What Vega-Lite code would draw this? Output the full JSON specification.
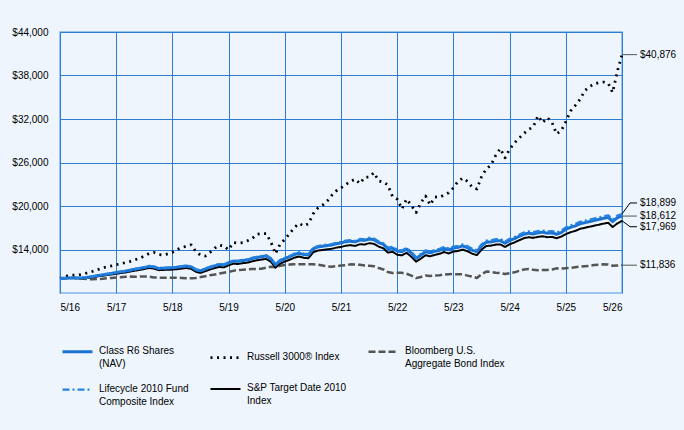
{
  "$schema": "https://vega.github.io/schema/vega-lite/v6.json",
  "width": 562,
  "height": 261,
  "autosize": {"type": "none"},
  "padding": {"left": 60, "top": 32, "right": 62, "bottom": 137},
  "background": "#eef5fd",
  "data": {
    "format": {"parse": {"date": "date:'%Y-%m'"}},
    "values": [
      {"date":"2016-05","series":"Bloomberg","value":10000},{"date":"2016-06","series":"Bloomberg","value":10050},{"date":"2016-07","series":"Bloomberg","value":10080},{"date":"2016-08","series":"Bloomberg","value":10070},{"date":"2016-09","series":"Bloomberg","value":10050},{"date":"2016-10","series":"Bloomberg","value":9980},{"date":"2016-11","series":"Bloomberg","value":9900},{"date":"2016-12","series":"Bloomberg","value":9890},{"date":"2017-01","series":"Bloomberg","value":9920},{"date":"2017-02","series":"Bloomberg","value":9960},
      {"date":"2017-03","series":"Bloomberg","value":10020},{"date":"2017-04","series":"Bloomberg","value":10080},{"date":"2017-05","series":"Bloomberg","value":10150},{"date":"2017-06","series":"Bloomberg","value":10180},{"date":"2017-07","series":"Bloomberg","value":10230},{"date":"2017-08","series":"Bloomberg","value":10260},{"date":"2017-09","series":"Bloomberg","value":10240},{"date":"2017-10","series":"Bloomberg","value":10260},{"date":"2017-11","series":"Bloomberg","value":10270},{"date":"2017-12","series":"Bloomberg","value":10250},
      {"date":"2018-01","series":"Bloomberg","value":10150},{"date":"2018-02","series":"Bloomberg","value":10110},{"date":"2018-03","series":"Bloomberg","value":10100},{"date":"2018-04","series":"Bloomberg","value":10090},{"date":"2018-05","series":"Bloomberg","value":10110},{"date":"2018-06","series":"Bloomberg","value":10100},{"date":"2018-07","series":"Bloomberg","value":10080},{"date":"2018-08","series":"Bloomberg","value":10050},{"date":"2018-09","series":"Bloomberg","value":10030},{"date":"2018-10","series":"Bloomberg","value":10080},
      {"date":"2018-11","series":"Bloomberg","value":10200},{"date":"2018-12","series":"Bloomberg","value":10300},{"date":"2019-01","series":"Bloomberg","value":10450},{"date":"2019-02","series":"Bloomberg","value":10550},{"date":"2019-03","series":"Bloomberg","value":10680},{"date":"2019-04","series":"Bloomberg","value":10800},{"date":"2019-05","series":"Bloomberg","value":10900},{"date":"2019-06","series":"Bloomberg","value":11050},{"date":"2019-07","series":"Bloomberg","value":11180},{"date":"2019-08","series":"Bloomberg","value":11200},
      {"date":"2019-09","series":"Bloomberg","value":11250},{"date":"2019-10","series":"Bloomberg","value":11300},{"date":"2019-11","series":"Bloomberg","value":11320},{"date":"2019-12","series":"Bloomberg","value":11350},{"date":"2020-01","series":"Bloomberg","value":11500},{"date":"2020-02","series":"Bloomberg","value":11630},{"date":"2020-03","series":"Bloomberg","value":11580},{"date":"2020-04","series":"Bloomberg","value":11750},{"date":"2020-05","series":"Bloomberg","value":11850},{"date":"2020-06","series":"Bloomberg","value":11920},
      {"date":"2020-07","series":"Bloomberg","value":11960},{"date":"2020-08","series":"Bloomberg","value":11980},{"date":"2020-09","series":"Bloomberg","value":11960},{"date":"2020-10","series":"Bloomberg","value":11950},{"date":"2020-11","series":"Bloomberg","value":11960},{"date":"2020-12","series":"Bloomberg","value":11900},{"date":"2021-01","series":"Bloomberg","value":11800},{"date":"2021-02","series":"Bloomberg","value":11680},{"date":"2021-03","series":"Bloomberg","value":11620},{"date":"2021-04","series":"Bloomberg","value":11700},
      {"date":"2021-05","series":"Bloomberg","value":11800},{"date":"2021-06","series":"Bloomberg","value":11850},{"date":"2021-07","series":"Bloomberg","value":11950},{"date":"2021-08","series":"Bloomberg","value":11930},{"date":"2021-09","series":"Bloomberg","value":11900},{"date":"2021-10","series":"Bloomberg","value":11800},{"date":"2021-11","series":"Bloomberg","value":11750},{"date":"2021-12","series":"Bloomberg","value":11700},{"date":"2022-01","series":"Bloomberg","value":11450},{"date":"2022-02","series":"Bloomberg","value":11250},
      {"date":"2022-03","series":"Bloomberg","value":10900},{"date":"2022-04","series":"Bloomberg","value":10750},{"date":"2022-05","series":"Bloomberg","value":10800},{"date":"2022-06","series":"Bloomberg","value":10780},{"date":"2022-07","series":"Bloomberg","value":10650},{"date":"2022-08","series":"Bloomberg","value":10400},{"date":"2022-09","series":"Bloomberg","value":10050},{"date":"2022-10","series":"Bloomberg","value":10200},{"date":"2022-11","series":"Bloomberg","value":10400},{"date":"2022-12","series":"Bloomberg","value":10350},
      {"date":"2023-01","series":"Bloomberg","value":10420},{"date":"2023-02","series":"Bloomberg","value":10440},{"date":"2023-03","series":"Bloomberg","value":10550},{"date":"2023-04","series":"Bloomberg","value":10600},{"date":"2023-05","series":"Bloomberg","value":10620},{"date":"2023-06","series":"Bloomberg","value":10570},{"date":"2023-07","series":"Bloomberg","value":10580},{"date":"2023-08","series":"Bloomberg","value":10400},{"date":"2023-09","series":"Bloomberg","value":10250},{"date":"2023-10","series":"Bloomberg","value":10080},
      {"date":"2023-11","series":"Bloomberg","value":10600},{"date":"2023-12","series":"Bloomberg","value":10950},{"date":"2024-01","series":"Bloomberg","value":10900},{"date":"2024-02","series":"Bloomberg","value":10800},{"date":"2024-03","series":"Bloomberg","value":10750},{"date":"2024-04","series":"Bloomberg","value":10620},{"date":"2024-05","series":"Bloomberg","value":10720},{"date":"2024-06","series":"Bloomberg","value":10850},{"date":"2024-07","series":"Bloomberg","value":11050},{"date":"2024-08","series":"Bloomberg","value":11250},
      {"date":"2024-09","series":"Bloomberg","value":11310},{"date":"2024-10","series":"Bloomberg","value":11200},{"date":"2024-11","series":"Bloomberg","value":11150},{"date":"2024-12","series":"Bloomberg","value":11180},{"date":"2025-01","series":"Bloomberg","value":11180},{"date":"2025-02","series":"Bloomberg","value":11250},{"date":"2025-03","series":"Bloomberg","value":11400},{"date":"2025-04","series":"Bloomberg","value":11380},{"date":"2025-05","series":"Bloomberg","value":11410},{"date":"2025-06","series":"Bloomberg","value":11450},
      {"date":"2025-07","series":"Bloomberg","value":11550},{"date":"2025-08","series":"Bloomberg","value":11630},{"date":"2025-09","series":"Bloomberg","value":11700},{"date":"2025-10","series":"Bloomberg","value":11750},{"date":"2025-11","series":"Bloomberg","value":11850},{"date":"2025-12","series":"Bloomberg","value":11900},{"date":"2026-01","series":"Bloomberg","value":11960},{"date":"2026-02","series":"Bloomberg","value":11930},{"date":"2026-03","series":"Bloomberg","value":11770},{"date":"2026-04","series":"Bloomberg","value":11800},
      {"date":"2026-05","series":"Bloomberg","value":11836},

      {"date":"2016-05","series":"Russell","value":10000},{"date":"2016-06","series":"Russell","value":10250},{"date":"2016-07","series":"Russell","value":10450},{"date":"2016-08","series":"Russell","value":10470},{"date":"2016-09","series":"Russell","value":10500},{"date":"2016-10","series":"Russell","value":10620},{"date":"2016-11","series":"Russell","value":10820},{"date":"2016-12","series":"Russell","value":11000},{"date":"2017-01","series":"Russell","value":11230},{"date":"2017-02","series":"Russell","value":11450},
      {"date":"2017-03","series":"Russell","value":11620},{"date":"2017-04","series":"Russell","value":11730},{"date":"2017-05","series":"Russell","value":11900},{"date":"2017-06","series":"Russell","value":12030},{"date":"2017-07","series":"Russell","value":12200},{"date":"2017-08","series":"Russell","value":12360},{"date":"2017-09","series":"Russell","value":12580},{"date":"2017-10","series":"Russell","value":12800},{"date":"2017-11","series":"Russell","value":13100},{"date":"2017-12","series":"Russell","value":13450},
      {"date":"2018-01","series":"Russell","value":13600},{"date":"2018-02","series":"Russell","value":13300},{"date":"2018-03","series":"Russell","value":13250},{"date":"2018-04","series":"Russell","value":13400},{"date":"2018-05","series":"Russell","value":13600},{"date":"2018-06","series":"Russell","value":14000},{"date":"2018-07","series":"Russell","value":14280},{"date":"2018-08","series":"Russell","value":14450},{"date":"2018-09","series":"Russell","value":14650},{"date":"2018-10","series":"Russell","value":13700},
      {"date":"2018-11","series":"Russell","value":13200},{"date":"2018-12","series":"Russell","value":13100},{"date":"2019-01","series":"Russell","value":13600},{"date":"2019-02","series":"Russell","value":14200},{"date":"2019-03","series":"Russell","value":14600},{"date":"2019-04","series":"Russell","value":14500},{"date":"2019-05","series":"Russell","value":13950},{"date":"2019-06","series":"Russell","value":14960},{"date":"2019-07","series":"Russell","value":14900},{"date":"2019-08","series":"Russell","value":14950},
      {"date":"2019-09","series":"Russell","value":15200},{"date":"2019-10","series":"Russell","value":15500},{"date":"2019-11","series":"Russell","value":16100},{"date":"2019-12","series":"Russell","value":16200},{"date":"2020-01","series":"Russell","value":16200},{"date":"2020-02","series":"Russell","value":15000},{"date":"2020-03","series":"Russell","value":13400},{"date":"2020-04","series":"Russell","value":14770},{"date":"2020-05","series":"Russell","value":15400},{"date":"2020-06","series":"Russell","value":16200},
      {"date":"2020-07","series":"Russell","value":17000},{"date":"2020-08","series":"Russell","value":17600},{"date":"2020-09","series":"Russell","value":17250},{"date":"2020-10","series":"Russell","value":17550},{"date":"2020-11","series":"Russell","value":18900},{"date":"2020-12","series":"Russell","value":19700},{"date":"2021-01","series":"Russell","value":20100},{"date":"2021-02","series":"Russell","value":20700},{"date":"2021-03","series":"Russell","value":21450},{"date":"2021-04","series":"Russell","value":22100},
      {"date":"2021-05","series":"Russell","value":22500},{"date":"2021-06","series":"Russell","value":22950},{"date":"2021-07","series":"Russell","value":23400},{"date":"2021-08","series":"Russell","value":23700},{"date":"2021-09","series":"Russell","value":23100},{"date":"2021-10","series":"Russell","value":23950},{"date":"2021-11","series":"Russell","value":24010},{"date":"2021-12","series":"Russell","value":24600},{"date":"2022-01","series":"Russell","value":23460},{"date":"2022-02","series":"Russell","value":23300},
      {"date":"2022-03","series":"Russell","value":22900},{"date":"2022-04","series":"Russell","value":21300},{"date":"2022-05","series":"Russell","value":20950},{"date":"2022-06","series":"Russell","value":19600},{"date":"2022-07","series":"Russell","value":20950},{"date":"2022-08","series":"Russell","value":20100},{"date":"2022-09","series":"Russell","value":19100},{"date":"2022-10","series":"Russell","value":20400},{"date":"2022-11","series":"Russell","value":21390},{"date":"2022-12","series":"Russell","value":20150},
      {"date":"2023-01","series":"Russell","value":21250},{"date":"2023-02","series":"Russell","value":21200},{"date":"2023-03","series":"Russell","value":21500},{"date":"2023-04","series":"Russell","value":21830},{"date":"2023-05","series":"Russell","value":22500},{"date":"2023-06","series":"Russell","value":23400},{"date":"2023-07","series":"Russell","value":23850},{"date":"2023-08","series":"Russell","value":23400},{"date":"2023-09","series":"Russell","value":22600},{"date":"2023-10","series":"Russell","value":22350},
      {"date":"2023-11","series":"Russell","value":24100},{"date":"2023-12","series":"Russell","value":25100},{"date":"2024-01","series":"Russell","value":25650},{"date":"2024-02","series":"Russell","value":27000},{"date":"2024-03","series":"Russell","value":27930},{"date":"2024-04","series":"Russell","value":26640},{"date":"2024-05","series":"Russell","value":27840},{"date":"2024-06","series":"Russell","value":28700},{"date":"2024-07","series":"Russell","value":29350},{"date":"2024-08","series":"Russell","value":30000},
      {"date":"2024-09","series":"Russell","value":30550},{"date":"2024-10","series":"Russell","value":30900},{"date":"2024-11","series":"Russell","value":32440},{"date":"2024-12","series":"Russell","value":31500},{"date":"2025-01","series":"Russell","value":32200},{"date":"2025-02","series":"Russell","value":31500},{"date":"2025-03","series":"Russell","value":29950},{"date":"2025-04","series":"Russell","value":30370},{"date":"2025-05","series":"Russell","value":31650},{"date":"2025-06","series":"Russell","value":33100},
      {"date":"2025-07","series":"Russell","value":33860},{"date":"2025-08","series":"Russell","value":34700},{"date":"2025-09","series":"Russell","value":35900},{"date":"2025-10","series":"Russell","value":36450},{"date":"2025-11","series":"Russell","value":36850},{"date":"2025-12","series":"Russell","value":37000},{"date":"2026-01","series":"Russell","value":37100},{"date":"2026-02","series":"Russell","value":36900},{"date":"2026-03","series":"Russell","value":35650},{"date":"2026-04","series":"Russell","value":38600},
      {"date":"2026-05","series":"Russell","value":40876},

      {"date":"2016-05","series":"SP","value":10000},{"date":"2016-06","series":"SP","value":10037},{"date":"2016-07","series":"SP","value":10055},{"date":"2016-08","series":"SP","value":10052},{"date":"2016-09","series":"SP","value":10010},{"date":"2016-10","series":"SP","value":10037},{"date":"2016-11","series":"SP","value":10094},{"date":"2016-12","series":"SP","value":10190},{"date":"2017-01","series":"SP","value":10296},{"date":"2017-02","series":"SP","value":10382},
      {"date":"2017-03","series":"SP","value":10467},{"date":"2017-04","series":"SP","value":10553},{"date":"2017-05","series":"SP","value":10658},{"date":"2017-06","series":"SP","value":10750},{"date":"2017-07","series":"SP","value":10842},{"date":"2017-08","series":"SP","value":10963},{"date":"2017-09","series":"SP","value":11085},{"date":"2017-10","series":"SP","value":11196},{"date":"2017-11","series":"SP","value":11307},{"date":"2017-12","series":"SP","value":11457},
      {"date":"2018-01","series":"SP","value":11372},{"date":"2018-02","series":"SP","value":11149},{"date":"2018-03","series":"SP","value":11182},{"date":"2018-04","series":"SP","value":11205},{"date":"2018-05","series":"SP","value":11227},{"date":"2018-06","series":"SP","value":11290},{"date":"2018-07","series":"SP","value":11372},{"date":"2018-08","series":"SP","value":11445},{"date":"2018-09","series":"SP","value":11322},{"date":"2018-10","series":"SP","value":10926},
      {"date":"2018-11","series":"SP","value":10774},{"date":"2018-12","series":"SP","value":11012},{"date":"2019-01","series":"SP","value":11250},{"date":"2019-02","series":"SP","value":11439},{"date":"2019-03","series":"SP","value":11598},{"date":"2019-04","series":"SP","value":11544},{"date":"2019-05","series":"SP","value":11810},{"date":"2019-06","series":"SP","value":12049},{"date":"2019-07","series":"SP","value":11996},{"date":"2019-08","series":"SP","value":12118},
      {"date":"2019-09","series":"SP","value":12192},{"date":"2019-10","series":"SP","value":12371},{"date":"2019-11","series":"SP","value":12513},{"date":"2019-12","series":"SP","value":12606},{"date":"2020-01","series":"SP","value":12708},{"date":"2020-02","series":"SP","value":12306},{"date":"2020-03","series":"SP","value":11498},{"date":"2020-04","series":"SP","value":12055},{"date":"2020-05","series":"SP","value":12342},{"date":"2020-06","series":"SP","value":12579},
      {"date":"2020-07","series":"SP","value":12864},{"date":"2020-08","series":"SP","value":13031},{"date":"2020-09","series":"SP","value":12852},{"date":"2020-10","series":"SP","value":12798},{"date":"2020-11","series":"SP","value":13614},{"date":"2020-12","series":"SP","value":13849},{"date":"2021-01","series":"SP","value":13940},{"date":"2021-02","series":"SP","value":14029},{"date":"2021-03","series":"SP","value":14091},{"date":"2021-04","series":"SP","value":14258},
      {"date":"2021-05","series":"SP","value":14349},{"date":"2021-06","series":"SP","value":14522},{"date":"2021-07","series":"SP","value":14589},{"date":"2021-08","series":"SP","value":14493},{"date":"2021-09","series":"SP","value":14734},{"date":"2021-10","series":"SP","value":14686},{"date":"2021-11","series":"SP","value":14878},{"date":"2021-12","series":"SP","value":14782},{"date":"2022-01","series":"SP","value":14397},{"date":"2022-02","series":"SP","value":14156},
      {"date":"2022-03","series":"SP","value":13578},{"date":"2022-04","series":"SP","value":13675},{"date":"2022-05","series":"SP","value":13289},{"date":"2022-06","series":"SP","value":13196},{"date":"2022-07","series":"SP","value":13534},{"date":"2022-08","series":"SP","value":13007},{"date":"2022-09","series":"SP","value":12326},{"date":"2022-10","series":"SP","value":12722},{"date":"2022-11","series":"SP","value":13207},{"date":"2022-12","series":"SP","value":13065},
      {"date":"2023-01","series":"SP","value":13259},{"date":"2023-02","series":"SP","value":13407},{"date":"2023-03","series":"SP","value":13650},{"date":"2023-04","series":"SP","value":13459},{"date":"2023-05","series":"SP","value":13703},{"date":"2023-06","series":"SP","value":13801},{"date":"2023-07","series":"SP","value":13986},{"date":"2023-08","series":"SP","value":13754},{"date":"2023-09","series":"SP","value":13418},{"date":"2023-10","series":"SP","value":13226},
      {"date":"2023-11","series":"SP","value":14000},{"date":"2023-12","series":"SP","value":14482},{"date":"2024-01","series":"SP","value":14532},{"date":"2024-02","series":"SP","value":14679},{"date":"2024-03","series":"SP","value":14699},{"date":"2024-04","series":"SP","value":14353},{"date":"2024-05","series":"SP","value":14731},{"date":"2024-06","series":"SP","value":14973},{"date":"2024-07","series":"SP","value":15263},{"date":"2024-08","series":"SP","value":15553},
      {"date":"2024-09","series":"SP","value":15697},{"date":"2024-10","series":"SP","value":15601},{"date":"2024-11","series":"SP","value":15746},{"date":"2024-12","series":"SP","value":15823},{"date":"2025-01","series":"SP","value":15697},{"date":"2025-02","series":"SP","value":15746},{"date":"2025-03","series":"SP","value":15553},{"date":"2025-04","series":"SP","value":15775},{"date":"2025-05","series":"SP","value":16128},{"date":"2025-06","series":"SP","value":16387},
      {"date":"2025-07","series":"SP","value":16560},{"date":"2025-08","series":"SP","value":16848},{"date":"2025-09","series":"SP","value":16992},{"date":"2025-10","series":"SP","value":17136},{"date":"2025-11","series":"SP","value":17280},{"date":"2025-12","series":"SP","value":17424},{"date":"2026-01","series":"SP","value":17568},{"date":"2026-02","series":"SP","value":17683},{"date":"2026-03","series":"SP","value":17100},{"date":"2026-04","series":"SP","value":17600},
      {"date":"2026-05","series":"SP","value":17969},

      {"date":"2016-05","series":"R6","value":10000},{"date":"2016-06","series":"R6","value":10050},{"date":"2016-07","series":"R6","value":10080},{"date":"2016-08","series":"R6","value":10090},{"date":"2016-09","series":"R6","value":10060},{"date":"2016-10","series":"R6","value":10100},{"date":"2016-11","series":"R6","value":10170},{"date":"2016-12","series":"R6","value":10280},{"date":"2017-01","series":"R6","value":10400},{"date":"2017-02","series":"R6","value":10500},
      {"date":"2017-03","series":"R6","value":10600},{"date":"2017-04","series":"R6","value":10700},{"date":"2017-05","series":"R6","value":10820},{"date":"2017-06","series":"R6","value":10920},{"date":"2017-07","series":"R6","value":11020},{"date":"2017-08","series":"R6","value":11150},{"date":"2017-09","series":"R6","value":11280},{"date":"2017-10","series":"R6","value":11400},{"date":"2017-11","series":"R6","value":11520},{"date":"2017-12","series":"R6","value":11680},
      {"date":"2018-01","series":"R6","value":11600},{"date":"2018-02","series":"R6","value":11380},{"date":"2018-03","series":"R6","value":11420},{"date":"2018-04","series":"R6","value":11450},{"date":"2018-05","series":"R6","value":11480},{"date":"2018-06","series":"R6","value":11550},{"date":"2018-07","series":"R6","value":11640},{"date":"2018-08","series":"R6","value":11720},{"date":"2018-09","series":"R6","value":11600},{"date":"2018-10","series":"R6","value":11200},
      {"date":"2018-11","series":"R6","value":11050},{"date":"2018-12","series":"R6","value":11300},{"date":"2019-01","series":"R6","value":11550},{"date":"2019-02","series":"R6","value":11750},{"date":"2019-03","series":"R6","value":11920},{"date":"2019-04","series":"R6","value":11870},{"date":"2019-05","series":"R6","value":12150},{"date":"2019-06","series":"R6","value":12400},{"date":"2019-07","series":"R6","value":12350},{"date":"2019-08","series":"R6","value":12480},
      {"date":"2019-09","series":"R6","value":12560},{"date":"2019-10","series":"R6","value":12750},{"date":"2019-11","series":"R6","value":12900},{"date":"2019-12","series":"R6","value":13000},{"date":"2020-01","series":"R6","value":13110},{"date":"2020-02","series":"R6","value":12700},{"date":"2020-03","series":"R6","value":11870},{"date":"2020-04","series":"R6","value":12450},{"date":"2020-05","series":"R6","value":12750},{"date":"2020-06","series":"R6","value":13000},
      {"date":"2020-07","series":"R6","value":13300},{"date":"2020-08","series":"R6","value":13480},{"date":"2020-09","series":"R6","value":13300},{"date":"2020-10","series":"R6","value":13250},{"date":"2020-11","series":"R6","value":14100},{"date":"2020-12","series":"R6","value":14350},{"date":"2021-01","series":"R6","value":14450},{"date":"2021-02","series":"R6","value":14550},{"date":"2021-03","series":"R6","value":14620},{"date":"2021-04","series":"R6","value":14800},
      {"date":"2021-05","series":"R6","value":14900},{"date":"2021-06","series":"R6","value":15080},{"date":"2021-07","series":"R6","value":15150},{"date":"2021-08","series":"R6","value":15050},{"date":"2021-09","series":"R6","value":15300},{"date":"2021-10","series":"R6","value":15250},{"date":"2021-11","series":"R6","value":15450},{"date":"2021-12","series":"R6","value":15350},{"date":"2022-01","series":"R6","value":14950},{"date":"2022-02","series":"R6","value":14700},
      {"date":"2022-03","series":"R6","value":14100},{"date":"2022-04","series":"R6","value":14200},{"date":"2022-05","series":"R6","value":13800},{"date":"2022-06","series":"R6","value":13700},{"date":"2022-07","series":"R6","value":14050},{"date":"2022-08","series":"R6","value":13500},{"date":"2022-09","series":"R6","value":12790},{"date":"2022-10","series":"R6","value":13200},{"date":"2022-11","series":"R6","value":13700},{"date":"2022-12","series":"R6","value":13550},
      {"date":"2023-01","series":"R6","value":13750},{"date":"2023-02","series":"R6","value":13900},{"date":"2023-03","series":"R6","value":14150},{"date":"2023-04","series":"R6","value":13950},{"date":"2023-05","series":"R6","value":14200},{"date":"2023-06","series":"R6","value":14300},{"date":"2023-07","series":"R6","value":14490},{"date":"2023-08","series":"R6","value":14250},{"date":"2023-09","series":"R6","value":13900},{"date":"2023-10","series":"R6","value":13700},
      {"date":"2023-11","series":"R6","value":14500},{"date":"2023-12","series":"R6","value":15000},{"date":"2024-01","series":"R6","value":15050},{"date":"2024-02","series":"R6","value":15200},{"date":"2024-03","series":"R6","value":15220},{"date":"2024-04","series":"R6","value":14860},{"date":"2024-05","series":"R6","value":15250},{"date":"2024-06","series":"R6","value":15500},{"date":"2024-07","series":"R6","value":15800},{"date":"2024-08","series":"R6","value":16100},
      {"date":"2024-09","series":"R6","value":16250},{"date":"2024-10","series":"R6","value":16150},{"date":"2024-11","series":"R6","value":16300},{"date":"2024-12","series":"R6","value":16380},{"date":"2025-01","series":"R6","value":16250},{"date":"2025-02","series":"R6","value":16300},{"date":"2025-03","series":"R6","value":16100},{"date":"2025-04","series":"R6","value":16330},{"date":"2025-05","series":"R6","value":16800},{"date":"2025-06","series":"R6","value":17070},
      {"date":"2025-07","series":"R6","value":17250},{"date":"2025-08","series":"R6","value":17550},{"date":"2025-09","series":"R6","value":17700},{"date":"2025-10","series":"R6","value":17850},{"date":"2025-11","series":"R6","value":18000},{"date":"2025-12","series":"R6","value":18150},{"date":"2026-01","series":"R6","value":18300},{"date":"2026-02","series":"R6","value":18420},{"date":"2026-03","series":"R6","value":17850},{"date":"2026-04","series":"R6","value":18400},
      {"date":"2026-05","series":"R6","value":18612},

      {"date":"2016-05","series":"Lifecycle","value":10000},{"date":"2016-06","series":"Lifecycle","value":10052},{"date":"2016-07","series":"Lifecycle","value":10085},{"date":"2016-08","series":"Lifecycle","value":10097},{"date":"2016-09","series":"Lifecycle","value":10070},{"date":"2016-10","series":"Lifecycle","value":10112},{"date":"2016-11","series":"Lifecycle","value":10184},{"date":"2016-12","series":"Lifecycle","value":10297},{"date":"2017-01","series":"Lifecycle","value":10419},{"date":"2017-02","series":"Lifecycle","value":10522},
      {"date":"2017-03","series":"Lifecycle","value":10624},{"date":"2017-04","series":"Lifecycle","value":10726},{"date":"2017-05","series":"Lifecycle","value":10849},{"date":"2017-06","series":"Lifecycle","value":10951},{"date":"2017-07","series":"Lifecycle","value":11054},{"date":"2017-08","series":"Lifecycle","value":11186},{"date":"2017-09","series":"Lifecycle","value":11318},{"date":"2017-10","series":"Lifecycle","value":11441},{"date":"2017-11","series":"Lifecycle","value":11563},{"date":"2017-12","series":"Lifecycle","value":11726},
      {"date":"2018-01","series":"Lifecycle","value":11648},{"date":"2018-02","series":"Lifecycle","value":11430},{"date":"2018-03","series":"Lifecycle","value":11473},{"date":"2018-04","series":"Lifecycle","value":11505},{"date":"2018-05","series":"Lifecycle","value":11538},{"date":"2018-06","series":"Lifecycle","value":11610},{"date":"2018-07","series":"Lifecycle","value":11702},{"date":"2018-08","series":"Lifecycle","value":11785},{"date":"2018-09","series":"Lifecycle","value":11667},{"date":"2018-10","series":"Lifecycle","value":11270},
      {"date":"2018-11","series":"Lifecycle","value":11122},{"date":"2018-12","series":"Lifecycle","value":11374},{"date":"2019-01","series":"Lifecycle","value":11627},{"date":"2019-02","series":"Lifecycle","value":11829},{"date":"2019-03","series":"Lifecycle","value":12002},{"date":"2019-04","series":"Lifecycle","value":11954},{"date":"2019-05","series":"Lifecycle","value":12236},{"date":"2019-06","series":"Lifecycle","value":12489},{"date":"2019-07","series":"Lifecycle","value":12441},{"date":"2019-08","series":"Lifecycle","value":12574},
      {"date":"2019-09","series":"Lifecycle","value":12656},{"date":"2019-10","series":"Lifecycle","value":12848},{"date":"2019-11","series":"Lifecycle","value":13001},{"date":"2019-12","series":"Lifecycle","value":13103},{"date":"2020-01","series":"Lifecycle","value":13216},{"date":"2020-02","series":"Lifecycle","value":12808},{"date":"2020-03","series":"Lifecycle","value":11980},{"date":"2020-04","series":"Lifecycle","value":12563},{"date":"2020-05","series":"Lifecycle","value":12865},{"date":"2020-06","series":"Lifecycle","value":13118},
      {"date":"2020-07","series":"Lifecycle","value":13420},{"date":"2020-08","series":"Lifecycle","value":13602},{"date":"2020-09","series":"Lifecycle","value":13425},{"date":"2020-10","series":"Lifecycle","value":13377},{"date":"2020-11","series":"Lifecycle","value":14230},{"date":"2020-12","series":"Lifecycle","value":14482},{"date":"2021-01","series":"Lifecycle","value":14584},{"date":"2021-02","series":"Lifecycle","value":14687},{"date":"2021-03","series":"Lifecycle","value":14759},{"date":"2021-04","series":"Lifecycle","value":14942},
      {"date":"2021-05","series":"Lifecycle","value":15044},{"date":"2021-06","series":"Lifecycle","value":15226},{"date":"2021-07","series":"Lifecycle","value":15299},{"date":"2021-08","series":"Lifecycle","value":15201},{"date":"2021-09","series":"Lifecycle","value":15454},{"date":"2021-10","series":"Lifecycle","value":15406},{"date":"2021-11","series":"Lifecycle","value":15608},{"date":"2021-12","series":"Lifecycle","value":15511},{"date":"2022-01","series":"Lifecycle","value":15113},{"date":"2022-02","series":"Lifecycle","value":14866},
      {"date":"2022-03","series":"Lifecycle","value":14268},{"date":"2022-04","series":"Lifecycle","value":14370},{"date":"2022-05","series":"Lifecycle","value":13973},{"date":"2022-06","series":"Lifecycle","value":13875},{"date":"2022-07","series":"Lifecycle","value":14228},{"date":"2022-08","series":"Lifecycle","value":13680},{"date":"2022-09","series":"Lifecycle","value":12972},{"date":"2022-10","series":"Lifecycle","value":13385},{"date":"2022-11","series":"Lifecycle","value":13887},{"date":"2022-12","series":"Lifecycle","value":13740},
      {"date":"2023-01","series":"Lifecycle","value":13942},{"date":"2023-02","series":"Lifecycle","value":14094},{"date":"2023-03","series":"Lifecycle","value":14347},{"date":"2023-04","series":"Lifecycle","value":14149},{"date":"2023-05","series":"Lifecycle","value":14402},{"date":"2023-06","series":"Lifecycle","value":14504},{"date":"2023-07","series":"Lifecycle","value":14696},{"date":"2023-08","series":"Lifecycle","value":14459},{"date":"2023-09","series":"Lifecycle","value":14111},{"date":"2023-10","series":"Lifecycle","value":13914},
      {"date":"2023-11","series":"Lifecycle","value":14716},{"date":"2023-12","series":"Lifecycle","value":15218},{"date":"2024-01","series":"Lifecycle","value":15271},{"date":"2024-02","series":"Lifecycle","value":15423},{"date":"2024-03","series":"Lifecycle","value":15446},{"date":"2024-04","series":"Lifecycle","value":15088},{"date":"2024-05","series":"Lifecycle","value":15480},{"date":"2024-06","series":"Lifecycle","value":15733},{"date":"2024-07","series":"Lifecycle","value":16035},{"date":"2024-08","series":"Lifecycle","value":16338},
      {"date":"2024-09","series":"Lifecycle","value":16490},{"date":"2024-10","series":"Lifecycle","value":16392},{"date":"2024-11","series":"Lifecycle","value":16545},{"date":"2024-12","series":"Lifecycle","value":16627},{"date":"2025-01","series":"Lifecycle","value":16500},{"date":"2025-02","series":"Lifecycle","value":16552},{"date":"2025-03","series":"Lifecycle","value":16354},{"date":"2025-04","series":"Lifecycle","value":16587},{"date":"2025-05","series":"Lifecycle","value":17059},{"date":"2025-06","series":"Lifecycle","value":17332},
      {"date":"2025-07","series":"Lifecycle","value":17514},{"date":"2025-08","series":"Lifecycle","value":17816},{"date":"2025-09","series":"Lifecycle","value":17969},{"date":"2025-10","series":"Lifecycle","value":18121},{"date":"2025-11","series":"Lifecycle","value":18274},{"date":"2025-12","series":"Lifecycle","value":18426},{"date":"2026-01","series":"Lifecycle","value":18578},{"date":"2026-02","series":"Lifecycle","value":18701},{"date":"2026-03","series":"Lifecycle","value":18133},{"date":"2026-04","series":"Lifecycle","value":18686},
      {"date":"2026-05","series":"Lifecycle","value":18899}
    ]
  },
  "encoding": {
    "x": {
      "field": "date",
      "type": "temporal",
      "title": null,
      "scale": {"domain": [{"year": 2016, "month": 5, "date": 1}, {"year": 2026, "month": 5, "date": 1}], "nice": false},
      "axis": {
        "format": "%-m/%y",
        "labelPadding": 9,
        "values": [
          {"year": 2016, "month": 5, "date": 1}, {"year": 2017, "month": 5, "date": 1}, {"year": 2018, "month": 5, "date": 1},
          {"year": 2019, "month": 5, "date": 1}, {"year": 2020, "month": 5, "date": 1}, {"year": 2021, "month": 5, "date": 1},
          {"year": 2022, "month": 5, "date": 1}, {"year": 2023, "month": 5, "date": 1}, {"year": 2024, "month": 5, "date": 1},
          {"year": 2025, "month": 5, "date": 1}, {"year": 2026, "month": 5, "date": 1}
        ]
      }
    },
    "y": {
      "field": "value",
      "type": "quantitative",
      "title": null,
      "scale": {"domain": [8000, 44000], "nice": false, "zero": false},
      "axis": {"values": [14000, 20000, 26000, 32000, 38000, 44000], "format": "$,.0f", "labelPadding": 12}
    }
  },
  "layer": [
    {
      "mark": {"type": "line", "strokeJoin": "round"},
      "encoding": {
        "color": {
          "field": "series",
          "type": "nominal",
          "scale": {
            "domain": ["R6", "Russell", "Bloomberg", "Lifecycle", "SP"],
            "range": ["#1a73d2", "#000000", "#555555", "#2483e0", "#000000"]
          },
          "legend": {
            "orient": "none",
            "direction": "horizontal",
            "legendX": 1,
            "legendY": 303,
            "columns": 3,
            "columnPadding": 16,
            "rowPadding": 4,
            "title": null,
            "symbolType": "stroke",
            "symbolSize": 900,
            "symbolStrokeWidth": 2.5,
            "labelOffset": 5,
            "labelLimit": 250,
            "labelFontSize": 10,
            "labelColor": "#000000",
            "labelBaseline": "top",
            "labelExpr": "datum.value == 'R6' ? ['Class R6 Shares', '(NAV)'] : datum.value == 'Russell' ? 'Russell 3000® Index' : datum.value == 'Bloomberg' ? ['Bloomberg U.S.', 'Aggregate Bond Index'] : datum.value == 'Lifecycle' ? ['Lifecycle 2010 Fund', 'Composite Index'] : ['S&P Target Date 2010', 'Index']",
            "encode": {"labels": {"update": {"dy": {"value": -6}, "lineHeight": {"value": 13}}}}
          }
        },
        "strokeDash": {
          "field": "series",
          "type": "nominal",
          "scale": {
            "domain": ["R6", "Russell", "Bloomberg", "Lifecycle", "SP"],
            "range": [[1, 0], [2, 4.5], [7, 3], [7, 3, 2, 3], [1, 0]]
          }
        },
        "strokeWidth": {
          "field": "series",
          "type": "nominal",
          "scale": {
            "domain": ["R6", "Russell", "Bloomberg", "Lifecycle", "SP"],
            "range": [3, 2, 2, 2, 2]
          }
        }
      }
    },
    {
      "transform": [{"filter": "year(datum.date) == 2026 && month(datum.date) == 4 && indexof(['Russell', 'R6', 'Bloomberg'], datum.series) >= 0"}],
      "mark": {"type": "rule", "x2Offset": 15, "color": "#555555", "strokeWidth": 1},
      "encoding": {"x2": {"field": "date"}}
    },
    {
      "transform": [{"filter": "year(datum.date) == 2026 && month(datum.date) == 4 && datum.series == 'Lifecycle'"}],
      "mark": {"type": "rule", "x2Offset": 8, "y2Offset": -11, "color": "#000000", "strokeWidth": 1},
      "encoding": {"x2": {"field": "date"}, "y2": {"field": "value"}}
    },
    {
      "transform": [{"filter": "year(datum.date) == 2026 && month(datum.date) == 4 && datum.series == 'Lifecycle'"}],
      "mark": {"type": "rule", "xOffset": 8, "x2Offset": 15, "yOffset": -11, "color": "#000000", "strokeWidth": 1},
      "encoding": {"x2": {"field": "date"}}
    },
    {
      "transform": [{"filter": "year(datum.date) == 2026 && month(datum.date) == 4 && datum.series == 'SP'"}],
      "mark": {"type": "rule", "x2Offset": 8, "y2Offset": 6, "color": "#000000", "strokeWidth": 1},
      "encoding": {"x2": {"field": "date"}, "y2": {"field": "value"}}
    },
    {
      "transform": [{"filter": "year(datum.date) == 2026 && month(datum.date) == 4 && datum.series == 'SP'"}],
      "mark": {"type": "rule", "xOffset": 8, "x2Offset": 15, "yOffset": 6, "color": "#000000", "strokeWidth": 1},
      "encoding": {"x2": {"field": "date"}}
    },
    {
      "transform": [{"filter": "year(datum.date) == 2026 && month(datum.date) == 4 && indexof(['Russell', 'R6', 'Bloomberg'], datum.series) >= 0"}],
      "mark": {"type": "text", "align": "left", "baseline": "middle", "dx": 18, "fontSize": 10, "color": "#000000"},
      "encoding": {"text": {"field": "value", "type": "quantitative", "format": "$,.0f"}}
    },
    {
      "transform": [{"filter": "year(datum.date) == 2026 && month(datum.date) == 4 && datum.series == 'Lifecycle'"}],
      "mark": {"type": "text", "align": "left", "baseline": "middle", "dx": 18, "dy": -11, "fontSize": 10, "color": "#000000"},
      "encoding": {"text": {"field": "value", "type": "quantitative", "format": "$,.0f"}}
    },
    {
      "transform": [{"filter": "year(datum.date) == 2026 && month(datum.date) == 4 && datum.series == 'SP'"}],
      "mark": {"type": "text", "align": "left", "baseline": "middle", "dx": 18, "dy": 6, "fontSize": 10, "color": "#000000"},
      "encoding": {"text": {"field": "value", "type": "quantitative", "format": "$,.0f"}}
    }
  ],
  "config": {
    "font": "Liberation Sans",
    "view": {"stroke": "#82b3ea", "strokeWidth": 1.5},
    "axis": {
      "grid": true,
      "gridColor": "#2d7dd8",
      "gridWidth": 1,
      "gridOpacity": 1,
      "domain": false,
      "ticks": false,
      "tickSize": 0,
      "labelFont": "Liberation Sans",
      "labelFontSize": 10,
      "labelColor": "#000000"
    },
    "legend": {"labelFont": "Liberation Sans"}
  }
}
